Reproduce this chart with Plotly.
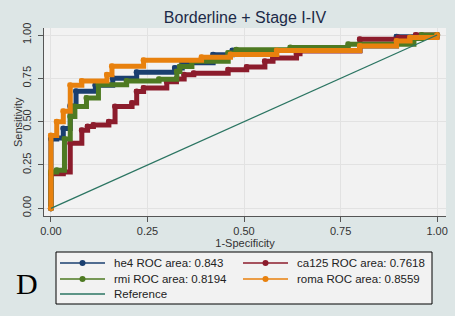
import plotly.graph_objects as go

# ---- data ----
tick_vals = [0, 0.25, 0.5, 0.75, 1.0]
tick_text = ["0.00", "0.25", "0.50", "0.75", "1.00"]

he4_fpr = [0, 0, 0.015, 0.032, 0.05, 0.065, 0.115, 0.16, 0.222, 0.321, 0.34, 0.42, 0.47, 0.80, 0.895, 1.0]
he4_tpr = [0, 0.40, 0.405, 0.46, 0.59, 0.675, 0.71, 0.75, 0.785, 0.81, 0.84, 0.886, 0.91, 0.936, 0.99, 1.0]

ca125_fpr = [0, 0, 0.032, 0.05, 0.08, 0.095, 0.11, 0.15, 0.166, 0.21, 0.222, 0.24, 0.30, 0.325, 0.345,
             0.37, 0.459, 0.507, 0.554, 0.575, 0.636, 0.645, 0.80, 0.90, 0.945, 1.0]
ca125_tpr = [0, 0.20, 0.21, 0.375, 0.45, 0.472, 0.48, 0.50, 0.587, 0.607, 0.674, 0.694, 0.73, 0.746, 0.77,
             0.78, 0.80, 0.815, 0.848, 0.867, 0.892, 0.908, 0.975, 0.985, 1.0, 1.0]

rmi_fpr = [0, 0, 0.015, 0.035, 0.05, 0.062, 0.092, 0.123, 0.196, 0.28, 0.326, 0.334, 0.365, 0.459, 0.48,
           0.62, 0.77, 0.94, 0.96, 1.0]
rmi_tpr = [0, 0.21, 0.22, 0.40, 0.53, 0.588, 0.636, 0.713, 0.735, 0.745, 0.79, 0.818, 0.848, 0.896, 0.915,
           0.928, 0.946, 0.98, 1.0, 1.0]

roma_fpr = [0, 0, 0.015, 0.032, 0.05, 0.08, 0.145, 0.158, 0.24, 0.39, 0.465, 0.585, 0.80, 0.895, 0.93, 1.0]
roma_tpr = [0, 0.42, 0.50, 0.56, 0.71, 0.735, 0.77, 0.82, 0.855, 0.872, 0.888, 0.911, 0.936, 0.965, 0.985, 1.0]

ref_x = [0, 1]
ref_y = [0, 1]

names = ["he4 ROC area: 0.843", "ca125 ROC area: 0.7618", "rmi ROC area: 0.8194", "roma ROC area: 0.8559"]
ref_name = "Reference"
colors = ["#1a3f6f", "#8c1c2c", "#4e7a22", "#e8810e"]
ref_color = "#2b7562"

series = [(he4_fpr, he4_tpr), (ca125_fpr, ca125_tpr), (rmi_fpr, rmi_tpr), (roma_fpr, roma_tpr)]

# ---- layout geometry (pixels) ----
W, H = 455, 316
ML, MR, MT, MB = 44, 9, 28, 100
PW, PH = W - ML - MR, H - MT - MB


def px(xp):
    return (xp - ML) / PW


def py(yp):
    return (H - MB - yp) / PH


fig = go.Figure()
for (fx, ty), nm, col in zip(series, names, colors):
    fig.add_trace(go.Scatter(
        x=fx, y=ty, mode="lines+markers", name=nm, line=dict(color=col, width=5, shape="hv"),
        marker=dict(color=col, size=6), hoverinfo="skip"))

fig.add_trace(go.Scatter(x=ref_x, y=ref_y, mode="lines", name=ref_name,
                         line=dict(color=ref_color, width=1.3)))

font_family = "Liberation Sans, Arial, sans-serif"
axis_common = dict(
    tickvals=tick_vals, ticktext=tick_text, ticks="outside", ticklen=5, tickcolor="#555555",
    showline=True, linecolor="#555555", linewidth=1, showgrid=True, gridcolor="#e2e2e2",
    gridwidth=1, zeroline=False, tickfont=dict(size=11, color="#333333", family=font_family),
)

# ---- legend box drawn like the original (2 columns, 3 rows) ----
shapes = [dict(type="rect", xref="paper", yref="paper", x0=px(56), x1=px(432), y0=py(252), y1=py(304),
               fillcolor="#f2f2f2", line=dict(color="#000000", width=1), layer="above")]
annotations = []
entries = list(zip(names, colors, [True] * len(names))) + [(ref_name, ref_color, False)]
col_x = [60, 243]
row_y = [263, 279, 294]
for k, (nm, col, has_marker) in enumerate(entries):
    cx = col_x[k % 2]
    ry = row_y[k // 2]
    shapes.append(dict(type="line", xref="paper", yref="paper", x0=px(cx), x1=px(cx + 45),
                       y0=py(ry), y1=py(ry), line=dict(color=col, width=1.3), layer="above"))
    if has_marker:
        mx = cx + 22.5
        shapes.append(dict(type="circle", xref="paper", yref="paper", x0=px(mx - 3), x1=px(mx + 3),
                           y0=py(ry + 3), y1=py(ry - 3), fillcolor=col, line=dict(color=col, width=0),
                           layer="above"))
    annotations.append(dict(text=nm, xref="paper", yref="paper", x=px(cx + 52), y=py(ry),
                            xanchor="left", yanchor="middle", showarrow=False,
                            font=dict(size=11.5, color="#222222")))

annotations.append(dict(text="Sensitivity", xref="paper", yref="paper", x=px(18), y=0.5,
                        xanchor="center", yanchor="middle", textangle=-90, showarrow=False,
                        font=dict(size=11, color="#333333")))
annotations.append(dict(text="D", xref="paper", yref="paper", x=px(27), y=py(283),
                        xanchor="center", yanchor="middle", showarrow=False,
                        font=dict(family="Liberation Serif, Times New Roman, serif", size=30, color="#000000")))

fig.update_layout(
    width=W, height=H,
    margin=dict(l=ML, r=MR, t=MT, b=MB, autoexpand=False),
    paper_bgcolor="#dde6e6", plot_bgcolor="#f2f2f2",
    font=dict(family=font_family, color="#333333"),
    title=dict(text="Borderline + Stage I-IV", x=0.5, xref="paper", xanchor="center",
               y=1 - 17 / H, yanchor="middle", font=dict(size=16, color="#1c2a48")),
    xaxis=dict(range=[-0.018, 1.023], automargin=False,
               title=dict(text="1-Specificity", font=dict(size=11, color="#333333"), standoff=2),
               **axis_common),
    yaxis=dict(range=[-0.0445, 1.0405], tickangle=-90, automargin=False, ticklabelstandoff=3,
               **axis_common),
    showlegend=False,
    shapes=shapes,
    annotations=annotations,
)

fig.write_html("out.html")
